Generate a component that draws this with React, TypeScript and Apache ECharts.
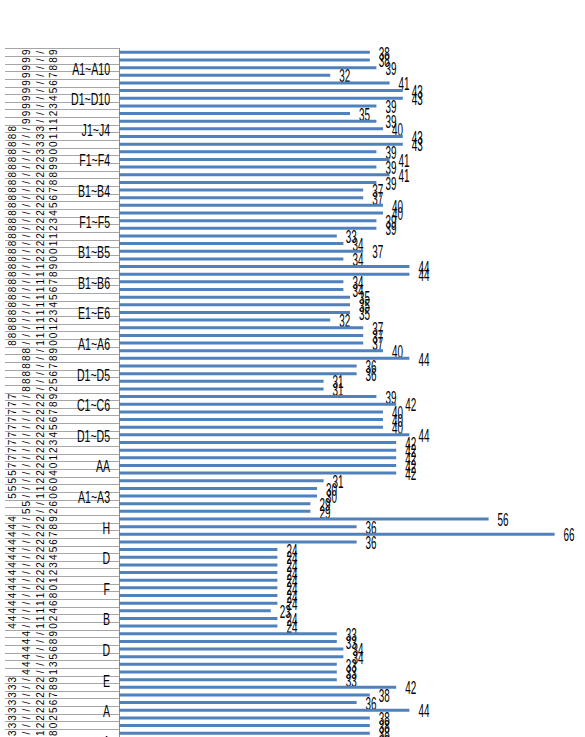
import React, { useEffect, useRef } from "react";
import * as echarts from "echarts";

// Bar values, top row first
const values = [
  38, 38, 39, 32, 41, 43, 43, 39, 35, 39,
  40, 43, 43, 39, 41, 39, 41, 39, 37, 37,
  40, 40, 39, 39, 33, 34, 37, 34, 44, 44,
  34, 34, 35, 35, 35, 32, 37, 37, 37, 40,
  44, 36, 36, 31, 31, 39, 42, 40, 40, 40,
  44, 42, 42, 42, 42, 42, 31, 30, 30, 29,
  29, 56, 36, 66, 36, 24, 24, 24, 24, 24,
  24, 24, 24, 23, 24, 24, 33, 33, 34, 34,
  33, 33, 33, 42, 38, 36, 44, 38, 38, 38,
  38,
];

// Inner category level, one name per block of four rows
const groupLabels = [
  "A1~A10", "D1~D10", "J1~J4", "F1~F4", "B1~B4", "F1~F5", "B1~B5", "B1~B6",
  "E1~E6", "A1~A6", "D1~D5", "C1~C6", "D1~D5", "AA", "A1~A3", "H",
  "D", "F", "B", "D", "E", "A", "A",
];

// Outer category level (dates), one per row
const dates = [
  "9/9", "9/8", "9/8", "9/7", "9/6", "9/5", "9/4", "9/3", "9/2", "9/1",
  "8/31", "8/31", "8/30", "8/30", "8/29", "8/29", "8/28", "8/28", "8/27", "8/26",
  "8/25", "8/24", "8/23", "8/22", "8/21", "8/21", "8/20", "8/20", "8/19", "8/18",
  "8/17", "8/16", "8/15", "8/14", "8/13", "8/12", "8/11", "8/10", "8/10", "8/9",
  "8/8", "8/7", "8/6", "8/5", "8/2", "7/29", "7/28", "7/27", "7/26", "7/25",
  "7/24", "7/23", "7/22", "7/21", "7/20", "5/24", "5/20", "5/16", "5/10", "5/6",
  "5/2", "4/29", "4/28", "4/27", "4/26", "4/25", "4/24", "4/23", "4/22", "4/21",
  "4/20", "4/18", "4/16", "4/14", "4/12", "4/10", "4/9", "4/8", "4/6", "4/5",
  "4/3", "4/1", "3/29", "3/28", "3/27", "3/26", "3/25", "3/22", "3/20", "3/18",
  "3/15",
];

const categories = values.map((_, i) => groupLabels[Math.floor(i / 4)]);
const rowData = values.map((v, i) => [v, i]);

const ROW_H = 7.65;
const GRID_LEFT = 119;
const FONT = '"Liberation Sans", Arial, sans-serif';
// centre x of the four character slots of a right-aligned date
const DATE_SLOT_X = [12, 26, 40, 53];
// each date split into four right-aligned character columns
const dateSlots = DATE_SLOT_X.map((_, k) => dates.map((d) => d.padStart(4, " ")[k]));

export default function App() {
  const ref = useRef<HTMLDivElement>(null);

  useEffect(() => {
    if (!ref.current) return;
    const chart = echarts.init(ref.current, null, { renderer: "svg" });

    const dateAxes = dateSlots.map((chars, k) => ({
      type: "category",
      inverse: true,
      position: "left",
      offset: GRID_LEFT - DATE_SLOT_X[k],
      data: chars,
      axisLine: { show: false },
      axisTick: { show: false },
      axisLabel: {
        interval: 0,
        rotate: 90,
        margin: 0,
        align: "center",
        verticalAlign: "middle",
        fontFamily: FONT,
        fontSize: 10,
        color: "#000",
      },
    }));

    chart.setOption({
      animation: false,
      grid: { left: GRID_LEFT, top: 48.5, width: 462, height: values.length * ROW_H },
      xAxis: { type: "value", min: 0, max: 70, show: false },
      yAxis: [
        {
          type: "category",
          inverse: true,
          data: categories,
          axisLine: { lineStyle: { color: "#8c8c8c", width: 1 } },
          axisTick: {
            show: true,
            interval: 0,
            length: 114,
            lineStyle: { color: "#a6a6a6", width: 1 },
          },
          axisLabel: { show: false },
        },
        ...dateAxes,
      ],
      series: [
        {
          type: "bar",
          data: values,
          barWidth: 3,
          silent: true,
          itemStyle: { color: "#4F81BD" },
        },
        {
          // value labels, condensed
          type: "custom",
          silent: true,
          data: rowData,
          encode: { x: 0, y: 1 },
          renderItem: (params: any, api: any) => {
            const v = api.value(0);
            const p = api.coord([v, api.value(1)]);
            return {
              type: "text",
              x: p[0] + 9,
              y: p[1] + 1,
              scaleX: 0.55,
              style: {
                text: String(v),
                font: `18px ${FONT}`,
                fill: "#000",
                textAlign: "left",
                textVerticalAlign: "middle",
              },
            };
          },
        },
        {
          // inner category names, every fourth row
          type: "custom",
          silent: true,
          data: rowData,
          encode: { x: 0, y: 1 },
          renderItem: (params: any, api: any) => {
            const idx = api.value(1);
            if (idx % 4 !== 2) return null;
            const p = api.coord([0, idx]);
            return {
              type: "text",
              x: p[0] - 9,
              y: p[1] + 1,
              scaleX: 0.62,
              style: {
                text: categories[idx],
                font: `17px ${FONT}`,
                fill: "#000",
                textAlign: "right",
                textVerticalAlign: "middle",
              },
            };
          },
        },
      ],
    });

    return () => chart.dispose();
  }, []);

  return (
    <div
      style={{
        position: "absolute",
        left: 0,
        top: 0,
        width: 585,
        height: 737,
        overflow: "hidden",
        background: "#fff",
      }}
    >
      <div ref={ref} style={{ width: 585, height: 760 }} />
    </div>
  );
}
